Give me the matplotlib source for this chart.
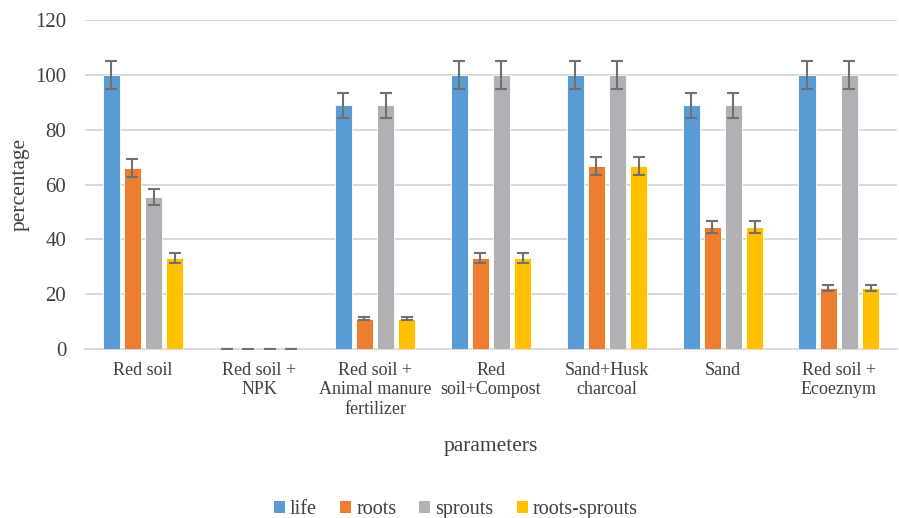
import matplotlib
matplotlib.use("Agg")
import matplotlib.pyplot as plt
from matplotlib.patches import Patch
import numpy as np

categories = ["Red soil", "Red soil +\nNPK", "Red soil +\nAnimal manure\nfertilizer",
              "Red\nsoil+Compost", "Sand+Husk\ncharcoal", "Sand", "Red soil +\nEcoeznym"]
series_names = ["life", "roots", "sprouts", "roots-sprouts"]
life = [100, 0, 88.9, 100, 100, 88.9, 100]
roots = [66, 0, 11.1, 33.3, 66.7, 44.4, 22.2]
sprouts = [55.5, 0, 88.9, 100, 100, 88.9, 100]
roots_sprouts = [33.3, 0, 11.1, 33.3, 66.7, 44.4, 22.2]
life_err = [5, 0, 4.4, 5, 5, 4.4, 5]
roots_err = [3.3, 0, 0.55, 1.7, 3.3, 2.2, 1.1]
sprouts_err = [2.8, 0, 4.4, 5, 5, 4.4, 5]
roots_sprouts_err = [1.7, 0, 0.55, 1.7, 3.3, 2.2, 1.1]
colors = ["#5b9bd5", "#ed7d31", "#b0b1b5", "#ffc000"]

plt.rcParams['font.family'] = ['Liberation Serif', 'DejaVu Serif']

fig = plt.figure(figsize=(8.99, 5.18), dpi=100)
ax = fig.add_axes([0.0946, 0.326, 0.903, 0.635])

x = np.arange(len(categories))
step = 0.182
width = 0.15
data = [life, roots, sprouts, roots_sprouts]
errs = [life_err, roots_err, sprouts_err, roots_sprouts_err]
for i, (vals, err) in enumerate(zip(data, errs)):
    pos = x + (i - 1.5) * step
    ax.bar(pos, vals, width=width, color=colors[i], label=series_names[i],
           edgecolor="white", linewidth=0.6, zorder=3)
    ax.errorbar(pos, vals, yerr=err, fmt="none", ecolor="#707070",
                elinewidth=1.5, capsize=4, capthick=1.5, zorder=4)

ax.set_xlim(-0.5, len(categories) - 0.5)
ax.set_ylim(0, 120)
ax.set_yticks(range(0, 121, 20))
ax.yaxis.grid(True, color="#d9d9d9", linewidth=1.4, zorder=0)
ax.set_axisbelow(True)
for s in ["top", "right", "left"]:
    ax.spines[s].set_visible(False)
ax.spines["bottom"].set_color("#d9d9d9")
ax.spines["bottom"].set_linewidth(1.4)
ax.tick_params(axis="both", length=0, colors="#404040")
ax.tick_params(axis="x", pad=9, labelsize=13)
ax.tick_params(axis="y", pad=13.5, labelsize=15)
ax.set_xticks(x)
ax.set_xticklabels(categories, linespacing=1.2, va="top")
for lbl in ax.get_xticklabels() + ax.get_yticklabels():
    lbl.set_color("#404040")
ax.set_ylabel("percentage", fontsize=15.5, color="#404040", labelpad=4)
ax.set_xlabel("parameters", fontsize=15.5, color="#404040", labelpad=14)

handles = [Patch(facecolor=c, edgecolor="none") for c in colors]
fig.legend(handles, series_names, loc="center", bbox_to_anchor=(0.507, 0.017),
           ncol=4, frameon=False, fontsize=14.5, handlelength=0.55, handleheight=0.55,
           handletextpad=0.25, columnspacing=1.15, labelcolor="#404040")

fig.savefig("out.png", dpi=100)
